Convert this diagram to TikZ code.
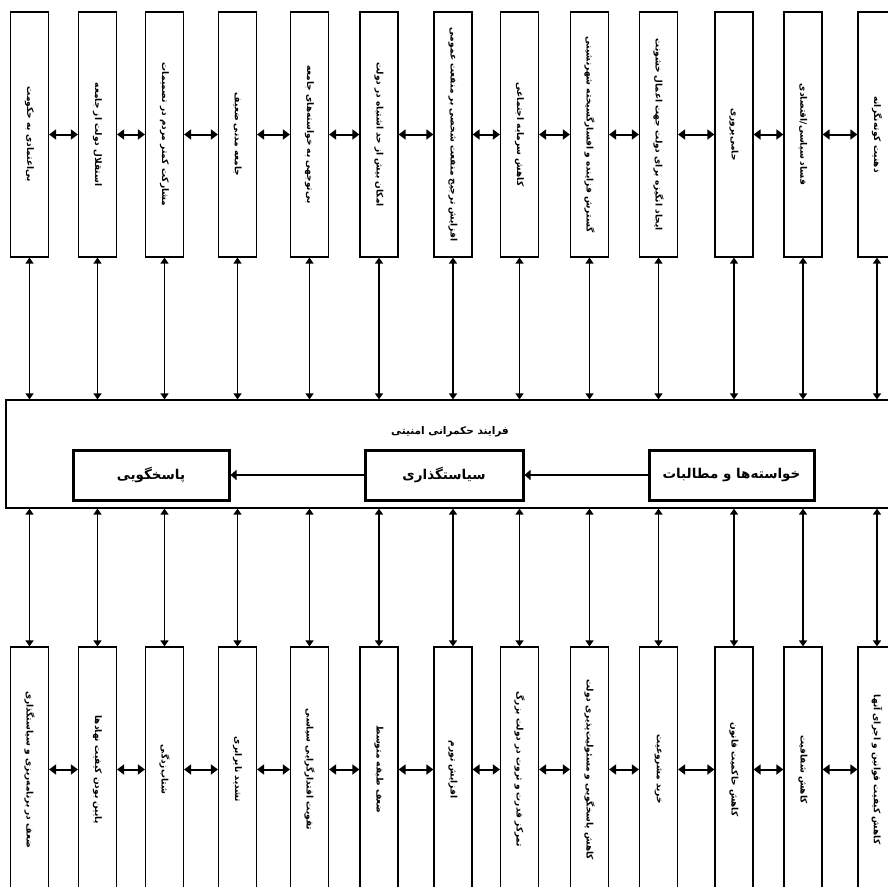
\documentclass[tikz,border=0pt]{standalone}
\usepackage{fontspec}
\usetikzlibrary{arrows.meta}
\TeXXeTstate=1
\newfontfamily\farsifont[Script=Arabic]{DejaVu Sans}
\newcommand{\vtext}[1]{\rotatebox{-90}{\beginR #1\endR}}
\newcommand{\htext}[1]{\beginR #1\endR}

\begin{document}
\begin{tikzpicture}[x=1pt, y=-1pt,
  cause/.style={rectangle, draw, line width=1.2pt, minimum width=38pt, minimum height=245pt, inner sep=0pt, font=\farsifont\bfseries\fontsize{9}{10}\selectfont},
  stage/.style={rectangle, draw, line width=3pt, minimum height=50pt, font=\farsifont\bfseries\fontsize{13.5}{15}\selectfont},
  link/.style={{Triangle[length=7pt,width=10pt]}-{Triangle[length=7pt,width=10pt]}, line width=2pt},
  vlink/.style={{Triangle[length=6pt,width=8pt]}-{Triangle[length=6pt,width=8pt]}, line width=1.4pt},
  flow/.style={-{Triangle[length=6pt,width=10pt]}, line width=2.8pt}
]
\useasboundingbox (0,0) rectangle (887,887);

% top row
\node[cause] (t1) at (29.5,134.5) {\vtext{بی‌اعتمادی به حکومت}};
\node[cause] (t2) at (97.5,134.5) {\vtext{استقلال دولت از جامعه}};
\node[cause] (t3) at (164.5,134.5) {\vtext{مشارکت کمتر مردم در تصمیمات}};
\node[cause] (t4) at (237.5,134.5) {\vtext{جامعه مدنی ضعیف}};
\node[cause] (t5) at (309.5,134.5) {\vtext{بی‌توجهی به خواسته‌های جامعه}};
\node[cause] (t6) at (379,134.5) {\vtext{امکان بیش از حد اشتباه در دولت}};
\node[cause] (t7) at (453,134.5) {\vtext{افزایش ترجیح منفعت شخصی بر منفعت عمومی}};
\node[cause] (t8) at (519.5,134.5) {\vtext{کاهش سرمایه اجتماعی}};
\node[cause] (t9) at (589.5,134.5) {\vtext{گسترش فزاینده و افسارگسیخته شهرنشینی}};
\node[cause] (t10) at (658.5,134.5) {\vtext{ایجاد انگیزه برای دولت جهت اعمال خشونت}};
\node[cause] (t11) at (734,134.5) {\vtext{حامی‌پروری}};
\node[cause] (t12) at (803,134.5) {\vtext{فساد سیاسی/اقتصادی}};
\node[cause] (t13) at (877,134.5) {\vtext{ذهنیت کوته‌نگرانه}};

% bottom row
\node[cause] (b1) at (29.5,769.5) {\vtext{ضعف در برنامه‌ریزی و سیاستگذاری}};
\node[cause] (b2) at (97.5,769.5) {\vtext{پایین بودن کیفیت نهادها}};
\node[cause] (b3) at (164.5,769.5) {\vtext{شتاب‌زدگی}};
\node[cause] (b4) at (237.5,769.5) {\vtext{تشدید نابرابری}};
\node[cause] (b5) at (309.5,769.5) {\vtext{تقویت اقتدارگرایی سیاسی}};
\node[cause] (b6) at (379,769.5) {\vtext{ضعف طبقه متوسط}};
\node[cause] (b7) at (453,769.5) {\vtext{افزایش تورم}};
\node[cause] (b8) at (519.5,769.5) {\vtext{تمرکز قدرت و ثروت در دولت بزرگ}};
\node[cause] (b9) at (589.5,769.5) {\vtext{کاهش پاسخگویی و مسئولیت‌پذیری دولت}};
\node[cause] (b10) at (658.5,769.5) {\vtext{خرید مشروعیت}};
\node[cause] (b11) at (734,769.5) {\vtext{کاهش حاکمیت قانون}};
\node[cause] (b12) at (803,769.5) {\vtext{کاهش شفافیت}};
\node[cause] (b13) at (877,769.5) {\vtext{کاهش کیفیت قوانین و اجرای آنها}};

% central process
\node[rectangle, draw, line width=1.2pt, minimum width=889pt, minimum height=108pt] (proc) at (450.5,454) {};
\node[font=\farsifont\bfseries\fontsize{10.5}{12}\selectfont] (title) at (450,432) {\htext{فرایند حکمرانی امنیتی}};
\node[stage, minimum width=156pt] (ans) at (151,475) {\htext{پاسخگویی}};
\node[stage, minimum width=158pt] (pol) at (444,475) {\htext{سیاستگذاری}};
\node[stage, minimum width=165pt] (dem) at (731.5,475) {\htext{خواسته‌ها و مطالبات}};

\draw[flow] (dem) -- (pol);
\draw[flow] (pol) -- (ans);

% links between neighbours
\draw[link] (t1) -- (t2);
\draw[link] (t2) -- (t3);
\draw[link] (t3) -- (t4);
\draw[link] (t4) -- (t5);
\draw[link] (t5) -- (t6);
\draw[link] (t6) -- (t7);
\draw[link] (t7) -- (t8);
\draw[link] (t8) -- (t9);
\draw[link] (t9) -- (t10);
\draw[link] (t10) -- (t11);
\draw[link] (t11) -- (t12);
\draw[link] (t12) -- (t13);
\draw[link] (b1) -- (b2);
\draw[link] (b2) -- (b3);
\draw[link] (b3) -- (b4);
\draw[link] (b4) -- (b5);
\draw[link] (b5) -- (b6);
\draw[link] (b6) -- (b7);
\draw[link] (b7) -- (b8);
\draw[link] (b8) -- (b9);
\draw[link] (b9) -- (b10);
\draw[link] (b10) -- (b11);
\draw[link] (b11) -- (b12);
\draw[link] (b12) -- (b13);

% links to the process
\draw[vlink] (t1.south) -- (t1.south |- proc.north);
\draw[vlink] (t2.south) -- (t2.south |- proc.north);
\draw[vlink] (t3.south) -- (t3.south |- proc.north);
\draw[vlink] (t4.south) -- (t4.south |- proc.north);
\draw[vlink] (t5.south) -- (t5.south |- proc.north);
\draw[vlink] (t6.south) -- (t6.south |- proc.north);
\draw[vlink] (t7.south) -- (t7.south |- proc.north);
\draw[vlink] (t8.south) -- (t8.south |- proc.north);
\draw[vlink] (t9.south) -- (t9.south |- proc.north);
\draw[vlink] (t10.south) -- (t10.south |- proc.north);
\draw[vlink] (t11.south) -- (t11.south |- proc.north);
\draw[vlink] (t12.south) -- (t12.south |- proc.north);
\draw[vlink] (t13.south) -- (t13.south |- proc.north);
\draw[vlink] (proc.south -| b1.north) -- (b1.north);
\draw[vlink] (proc.south -| b2.north) -- (b2.north);
\draw[vlink] (proc.south -| b3.north) -- (b3.north);
\draw[vlink] (proc.south -| b4.north) -- (b4.north);
\draw[vlink] (proc.south -| b5.north) -- (b5.north);
\draw[vlink] (proc.south -| b6.north) -- (b6.north);
\draw[vlink] (proc.south -| b7.north) -- (b7.north);
\draw[vlink] (proc.south -| b8.north) -- (b8.north);
\draw[vlink] (proc.south -| b9.north) -- (b9.north);
\draw[vlink] (proc.south -| b10.north) -- (b10.north);
\draw[vlink] (proc.south -| b11.north) -- (b11.north);
\draw[vlink] (proc.south -| b12.north) -- (b12.north);
\draw[vlink] (proc.south -| b13.north) -- (b13.north);
\end{tikzpicture}
\end{document}
